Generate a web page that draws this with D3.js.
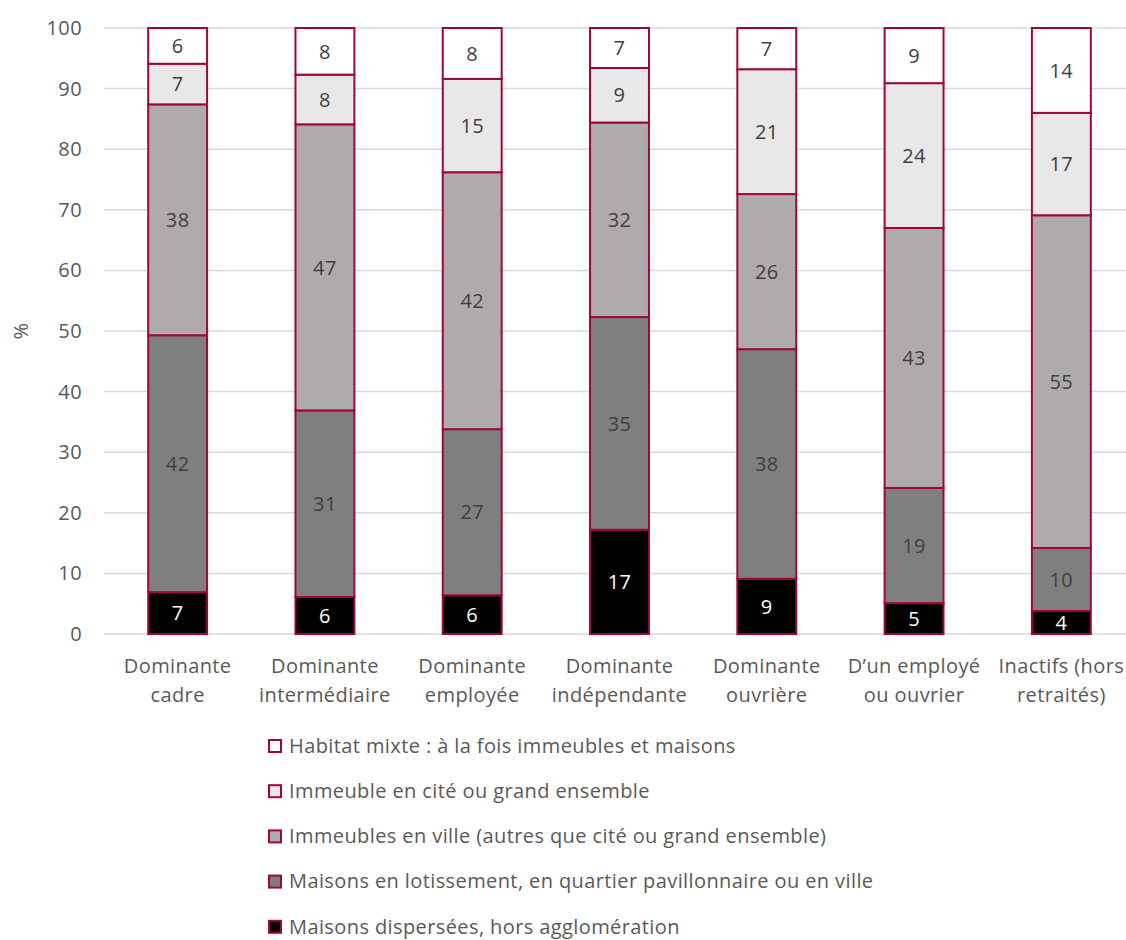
<!DOCTYPE html>
<html>
<head>
<meta charset="utf-8">
<script src="https://cdnjs.cloudflare.com/ajax/libs/d3/7.8.5/d3.min.js"></script>
<style>
  body { margin: 0; background: #fff; }
  text { font-family: "Open Sans", Lato, sans-serif; letter-spacing: 0.4px; }
</style>
</head>
<body>
<div id="chart"></div>
<script>
let categories = [
  ['Dominante', 'cadre'],
  ['Dominante', 'intermédiaire'],
  ['Dominante', 'employée'],
  ['Dominante', 'indépendante'],
  ['Dominante', 'ouvrière'],
  ['D’un employé', 'ou ouvrier'],
  ['Inactifs (hors', 'retraités)']
];

// series, bottom to top
let seriesNames = [
  'Maisons dispersées, hors agglomération',
  'Maisons en lotissement, en quartier pavillonnaire ou en ville',
  'Immeubles en ville (autres que cité ou grand ensemble)',
  'Immeuble en cité ou grand ensemble',
  'Habitat mixte : à la fois immeubles et maisons'
];
let dispersees = [6.9, 6.1, 6.4, 17.2, 9.1, 5.1, 3.8];
let lotissement = [42.4, 30.8, 27.4, 35.1, 37.9, 19.0, 10.4];
let immeublesVille = [38.1, 47.2, 42.4, 32.1, 25.6, 42.9, 54.9];
let cite = [6.7, 8.2, 15.4, 9.0, 20.6, 23.9, 16.9];
let mixte = [5.9, 7.7, 8.4, 6.6, 6.8, 9.1, 14.0];
let yTicks = [0, 10, 20, 30, 40, 50, 60, 70, 80, 90, 100];

let fills = ['#000000', '#7f7f7f', '#afabab', '#e8e8e8', '#ffffff'];
let stroke = '#a0063a';
let fontSize = '20px';

let width = 1126;
let height = 940;

let svg = d3.select('#chart')
  .append('svg')
  .attr('width', width)
  .attr('height', height);

let x = d3.scaleBand()
  .domain(d3.range(categories.length))
  .range([104, 1135])
  .paddingInner(0.6)
  .paddingOuter(0.3);

let y = d3.scaleLinear()
  .domain([0, 100])
  .range([634, 28]);

// gridlines
svg.append('g')
  .selectAll('line')
  .data(yTicks)
  .enter()
  .append('line')
  .attr('x1', 104)
  .attr('x2', 1135)
  .attr('y1', d => y(d))
  .attr('y2', d => y(d))
  .attr('stroke', '#d9d9d9')
  .attr('stroke-width', 1.5);

// y axis labels
let yAxis = d3.axisLeft(y).tickValues(yTicks).tickSize(0).tickPadding(0);
let yg = svg.append('g')
  .attr('transform', 'translate(82,0)')
  .call(yAxis);
yg.select('.domain').remove();
yg.selectAll('text')
  .attr('fill', '#595959')
  .style('font-size', fontSize)
  .style('font-family', '"Open Sans", Lato, sans-serif');

svg.append('text')
  .attr('transform', 'translate(28,331) rotate(-90)')
  .attr('text-anchor', 'middle')
  .attr('fill', '#595959')
  .style('font-size', fontSize)
  .text('%');

let table = [dispersees, lotissement, immeublesVille, cite, mixte];
let rows = categories.map((c, i) => {
  let r = { i: i };
  table.forEach((s, k) => r[k] = s[i]);
  return r;
});
let stack = d3.stack().keys(d3.range(table.length))(rows);

let layers = svg.selectAll('.layer')
  .data(stack)
  .enter()
  .append('g')
  .attr('class', 'layer');

layers.selectAll('rect')
  .data(d => d)
  .enter()
  .append('rect')
  .attr('x', d => x(d.data.i))
  .attr('width', x.bandwidth())
  .attr('y', d => y(d[1]))
  .attr('height', d => y(d[0]) - y(d[1]))
  .attr('fill', function() { return fills[d3.select(this.parentNode).datum().key]; })
  .attr('stroke', stroke)
  .attr('stroke-width', 2);

layers.each(function(layer) {
  d3.select(this).selectAll('text')
    .data(layer)
    .enter()
    .append('text')
    .attr('x', d => x(d.data.i) + x.bandwidth() / 2)
    .attr('y', d => y((d[0] + d[1]) / 2))
    .attr('dy', '0.36em')
    .attr('text-anchor', 'middle')
    .attr('fill', layer.key === 0 ? '#ffffff' : '#404040')
    .style('font-size', fontSize)
    .text(d => Math.round(table[layer.key][d.data.i]));
});

// category labels
let cats = svg.append('g')
  .selectAll('text')
  .data(categories)
  .enter()
  .append('text')
  .attr('text-anchor', 'middle')
  .attr('fill', '#595959')
  .style('font-size', fontSize)
  .attr('transform', (d, i) => 'translate(' + (x(i) + x.bandwidth() / 2) + ',673)');
cats.selectAll('tspan')
  .data(d => d)
  .enter()
  .append('tspan')
  .attr('x', 0)
  .attr('y', (d, i) => i * 29)
  .text(d => d);

// legend, top to bottom
let legendItems = d3.range(seriesNames.length).reverse();
let legend = svg.selectAll('.legend')
  .data(legendItems)
  .enter()
  .append('g')
  .attr('class', 'legend')
  .attr('transform', (d, i) => 'translate(269,' + (746 + i * 45.2) + ')');

legend.append('rect')
  .attr('x', 0)
  .attr('y', -6)
  .attr('width', 12)
  .attr('height', 12)
  .attr('fill', d => fills[d])
  .attr('stroke', stroke)
  .attr('stroke-width', 2);

legend.append('text')
  .attr('x', 20)
  .attr('y', 0)
  .attr('dy', '0.34em')
  .attr('fill', '#595959')
  .style('font-size', fontSize)
  .text(d => seriesNames[d]);
</script>
</body>
</html>
